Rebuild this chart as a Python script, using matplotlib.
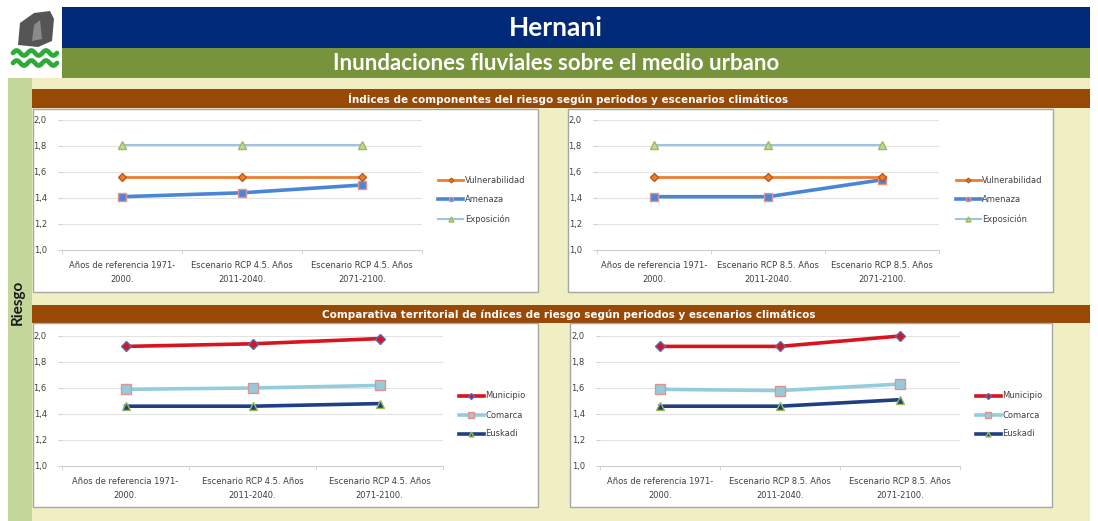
import numpy as np
import matplotlib
matplotlib.use("Agg")
import matplotlib.pyplot as plt
from matplotlib.patches import Rectangle, Polygon

plt.rcParams["font.family"] = ["Lato", "DejaVu Sans"]

# datos
periodos_45 = ["Años de referencia 1971-\n2000.",
               "Escenario RCP 4.5. Años\n2011-2040.",
               "Escenario RCP 4.5. Años\n2071-2100."]
periodos_85 = ["Años de referencia 1971-\n2000.",
               "Escenario RCP 8.5. Años\n2011-2040.",
               "Escenario RCP 8.5. Años\n2071-2100."]
y_ticks = [1.0, 1.2, 1.4, 1.6, 1.8, 2.0]
y_labels = ["1,0", "1,2", "1,4", "1,6", "1,8", "2,0"]

vulnerabilidad_45 = [1.56, 1.56, 1.56]
amenaza_45 = [1.41, 1.44, 1.50]
exposicion_45 = [1.81, 1.81, 1.81]

vulnerabilidad_85 = [1.56, 1.56, 1.56]
amenaza_85 = [1.41, 1.41, 1.54]
exposicion_85 = [1.81, 1.81, 1.81]

municipio_45 = [1.92, 1.94, 1.98]
comarca_45 = [1.59, 1.60, 1.62]
euskadi_45 = [1.46, 1.46, 1.48]

municipio_85 = [1.92, 1.92, 2.00]
comarca_85 = [1.59, 1.58, 1.63]
euskadi_85 = [1.46, 1.46, 1.51]

W, H = 1098, 521
fig = plt.figure(figsize=(W / 100, H / 100), dpi=100)
CHART_FONT = "DejaVu Sans"


def fbox(x0, y0, x1, y1):
    return [x0 / W, 1 - y1 / H, (x1 - x0) / W, (y1 - y0) / H]


def rect(x0, y0, x1, y1, color, ec="none", lw=0, z=-10):
    b = fbox(x0, y0, x1, y1)
    fig.patches.append(Rectangle((b[0], b[1]), b[2], b[3], transform=fig.transFigure,
                                 facecolor=color, edgecolor=ec, linewidth=lw, zorder=z))


# fondos
rect(32, 78, 1090, 521, "#efefc3")
rect(8, 78, 32, 521, "#c4d79b")
rect(62, 7, 1090, 48, "#002a78")
rect(62, 48, 1090, 78, "#77933c")
rect(32, 89, 1090, 108, "#984807")
rect(32, 305, 1090, 323, "#984807")

# paneles blancos
rect(33, 109, 538, 292, "white", ec="#a6a6a6", lw=1)
rect(568, 109, 1053, 292, "white", ec="#a6a6a6", lw=1)
rect(33, 323, 538, 507, "white", ec="#a6a6a6", lw=1)
rect(570, 323, 1052, 507, "white", ec="#a6a6a6", lw=1)

fig.text(556 / W, 1 - 28 / H, "Hernani", color="white", fontsize=19, fontweight="bold",
         ha="center", va="center")
fig.text(556 / W, 1 - 64 / H, "Inundaciones fluviales sobre el medio urbano", color="white",
         fontsize=16, fontweight="bold", ha="center", va="center")
fig.text(568 / W, 1 - 99 / H,
         "Índices de componentes del riesgo según periodos y escenarios climáticos",
         color="white", fontsize=7.5, fontweight="bold", ha="center", va="center",
         family=CHART_FONT)
fig.text(569 / W, 1 - 314.5 / H,
         "Comparativa territorial de índices de riesgo según periodos y escenarios climáticos",
         color="white", fontsize=7.5, fontweight="bold", ha="center", va="center",
         family=CHART_FONT)
fig.text(18 / W, 1 - 302 / H, "Riesgo", color="#1a1a1a", fontsize=11, fontweight="bold",
         rotation=90, ha="center", va="center")

# logo
rect(8, 7, 62, 77, "white")
lax = fig.add_axes(fbox(10, 10, 60, 75))
lax.set_xlim(0, 50)
lax.set_ylim(0, 65)
lax.axis("off")
lax.add_patch(Polygon([[8, 30], [10, 52], [24, 62], [40, 64], [44, 56], [42, 34], [28, 28]],
                      closed=True, facecolor="#555555", edgecolor="none"))
lax.add_patch(Polygon([[22, 34], [24, 50], [30, 55], [32, 36]], closed=True,
                      facecolor="#8a8a8a", edgecolor="none"))
wx = np.linspace(3, 47, 100)
for yb in [22, 12]:
    lax.plot(wx, yb + 2.5 * np.sin((wx - 3) / 44 * 2 * np.pi * 3), color="#2eaa3a", lw=3.4,
             solid_capstyle="round")


def style(ax, labels):
    ax.set_xlim(-0.5, 2.5)
    ax.set_ylim(1.0, 2.0)
    ax.set_yticks(y_ticks)
    ax.set_yticklabels(y_labels, family=CHART_FONT)
    ax.set_xticks([0, 1, 2])
    ax.set_xticklabels(labels, family=CHART_FONT, linespacing=1.7)
    ax.set_xticks([-0.5, 0.5, 1.5, 2.5], minor=True)
    ax.tick_params(axis="x", which="major", length=0, labelsize=6, colors="#404040", pad=8)
    ax.tick_params(axis="x", which="minor", length=3, color="#d0d0d0")
    ax.tick_params(axis="y", length=3, color="#d0d0d0", labelsize=6, labelcolor="#404040",
                   pad=8)
    ax.grid(axis="y", color="#e3e3e3", lw=0.8)
    for s in ["top", "right", "left"]:
        ax.spines[s].set_visible(False)
    ax.spines["bottom"].set_color("#d0d0d0")
    ax.set_facecolor("none")
    ax.set_axisbelow(True)


def add_legend(ax, legx, legy):
    h, l = ax.get_legend_handles_labels()
    order = [2, 1, 0]
    ax.legend([h[i] for i in order], [l[i] for i in order], loc="center left",
              bbox_to_anchor=(legx / W, 1 - legy / H), bbox_transform=fig.transFigure,
              frameon=False, handlelength=3.0, labelspacing=1.2,
              handletextpad=0.2, markerscale=0.6, labelcolor="#404040",
              prop={"family": CHART_FONT, "size": 6})


def top_chart(box, labels, vul, ame, exp_, legx):
    ax = fig.add_axes(fbox(*box))
    style(ax, labels)
    x = [0, 1, 2]
    ax.plot(x, exp_, color="#9dc3e6", lw=1.5, marker="^", ms=6, mfc="#c4d79b", mec="#9bbb59",
            label="Exposición", zorder=2, clip_on=False)
    ax.plot(x, ame, color="#4a86d6", lw=2.6, marker="s", ms=6, mfc="#4a86d6", mec="#e88f8f",
            label="Amenaza", zorder=3, clip_on=False)
    ax.plot(x, vul, color="#ed7d31", lw=2, marker="D", ms=4, mfc="#ed7d31", mec="#c05a10",
            label="Vulnerabilidad", zorder=4, clip_on=False)
    add_legend(ax, legx, 200)
    return ax


def bottom_chart(box, labels, mun, com, eus, legx):
    ax = fig.add_axes(fbox(*box))
    style(ax, labels)
    x = [0, 1, 2]
    ax.plot(x, eus, color="#1f3f84", lw=2.6, marker="^", ms=6, mfc="#1f3f84", mec="#9bbb59",
            label="Euskadi", zorder=2, clip_on=False)
    ax.plot(x, com, color="#93cddd", lw=2.6, marker="s", ms=7, mfc="#93cddd", mec="#e88f8f",
            label="Comarca", zorder=3, clip_on=False)
    ax.plot(x, mun, color="#d9141e", lw=2.6, marker="D", ms=5, mfc="#d9141e", mec="#4f6fb8",
            label="Municipio", zorder=4, clip_on=False)
    add_legend(ax, legx, 415)
    return ax


top_chart((62, 120, 422, 250), periodos_45, vulnerabilidad_45, amenaza_45, exposicion_45, 431)
top_chart((597, 120, 939, 250), periodos_85, vulnerabilidad_85, amenaza_85, exposicion_85, 948)
bottom_chart((62, 336, 443, 466), periodos_45, municipio_45, comarca_45, euskadi_45, 451)
bottom_chart((600, 336, 960, 466), periodos_85, municipio_85, comarca_85, euskadi_85, 968)

fig.savefig("out.png", dpi=100)
